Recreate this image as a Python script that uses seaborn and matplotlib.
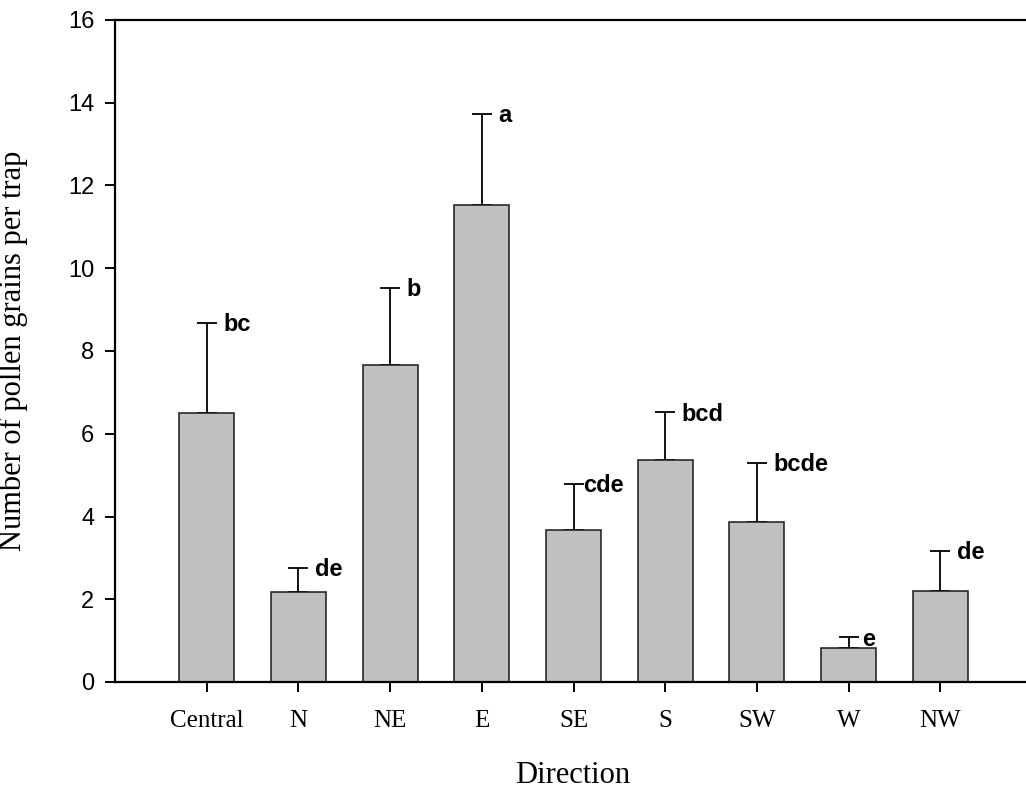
import numpy as np
import pandas as pd
import matplotlib
matplotlib.use("Agg")
import matplotlib.pyplot as plt
import seaborn as sns

# Mean pollen grains per trap by direction, with upper standard errors
directions = ["Central", "N", "NE", "E", "SE", "S", "SW", "W", "NW"]
mean_counts = [6.50, 2.17, 7.66, 11.54, 3.67, 5.37, 3.87, 0.83, 2.21]
std_errors = [2.18, 0.59, 1.86, 2.20, 1.12, 1.15, 1.43, 0.25, 0.96]
group_letters = ["bc", "de", "b", "a", "cde", "bcd", "bcde", "e", "de"]
y_ticks = [0, 2, 4, 6, 8, 10, 12, 14, 16]

df = pd.DataFrame({"Direction": directions, "Count": mean_counts, "SE": std_errors})

sns.set_style("ticks")
plt.rcParams["font.family"] = ["Liberation Sans", "DejaVu Sans"]
for key in ["text.color", "axes.labelcolor", "xtick.color", "ytick.color", "axes.edgecolor"]:
    plt.rcParams[key] = "black"

fig = plt.figure(figsize=(10.26, 7.90), dpi=100)
ax = fig.add_axes([115 / 1026, 108 / 790, 917 / 1026, 662 / 790])

sns.barplot(data=df, x="Direction", y="Count", order=directions,
            color="#c0c0c0", saturation=1, width=0.6,
            edgecolor="#1a1a1a", linewidth=1.1, errorbar=None, ax=ax, zorder=2)

# one-sided (upper) error bars
x = np.arange(len(directions))
lower = np.zeros(len(std_errors))
ax.errorbar(x, df["Count"], yerr=[lower, df["SE"]], fmt="none",
            ecolor="black", elinewidth=1.3, capsize=7.5, capthick=1.3, zorder=1)

# significance letters beside each cap
nudge = {"cde": 7, "e": 10}
for xi, m, s, lab in zip(x, mean_counts, std_errors, group_letters):
    ax.annotate(lab, xy=(xi, m + s), xytext=(nudge.get(lab, 12), -6),
                textcoords="offset points", ha="left", va="baseline",
                fontsize=17, fontweight="bold", family=["Liberation Sans"],
                color="black")

ax.set_xlim(-1, 9)
ax.set_ylim(0, 16)
ax.set_yticks(y_ticks)
ax.set_yticklabels([str(v) for v in y_ticks], fontsize=17, family=["Liberation Sans"])
ax.set_xticks(x)
ax.set_xticklabels(directions, fontsize=18, family=["Liberation Serif"])

for side in ["left", "bottom", "top"]:
    ax.spines[side].set_linewidth(1.6)
    ax.spines[side].set_color("black")
ax.spines["right"].set_visible(False)
ax.tick_params(axis="both", direction="out", length=7, width=1.4, color="black")
ax.tick_params(axis="y", pad=8)
ax.tick_params(axis="x", pad=13)

ax.set_xlabel("Direction", fontsize=22, family=["Liberation Serif"])
ax.set_ylabel("Number of pollen grains per trap", fontsize=22, family=["Liberation Serif"])
ax.xaxis.set_label_coords(0.4993, -0.12)
ax.yaxis.set_label_coords(-0.095, 0.5)

fig.savefig("out.png", dpi=100)
